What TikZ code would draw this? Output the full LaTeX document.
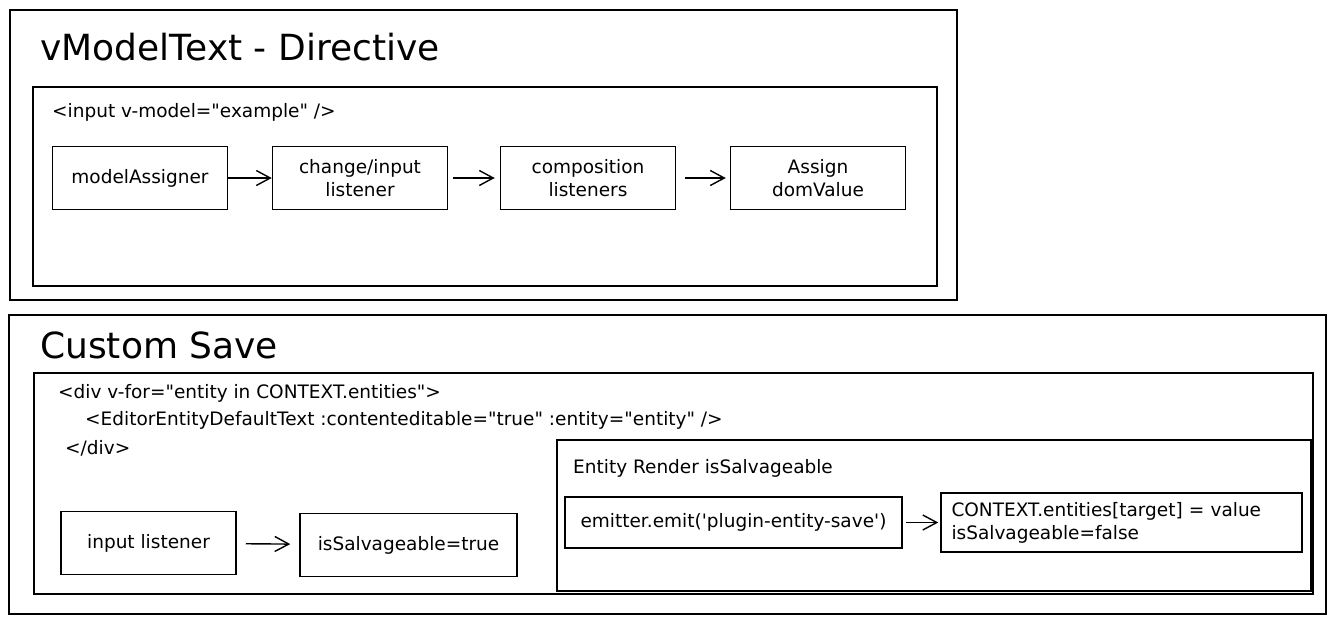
\documentclass[tikz,border=0pt]{standalone}
\usepackage{fontspec}
\setmainfont{DejaVu Sans}[Ligatures=TeXOff]
\usetikzlibrary{arrows.meta,positioning}

\begin{document}
\begin{tikzpicture}[x=1pt, y=-1pt,
  marco/.style={rectangle, draw, line width=1.5pt, inner sep=0pt},
  caja/.style={rectangle, draw, line width=1.5pt, align=center, font=\fontsize{18.5}{23}\selectfont, minimum width=175pt, minimum height=63pt},
  titulo/.style={anchor=west, inner sep=0pt, font=\fontsize{36}{40}\selectfont},
  codigo/.style={anchor=west, inner sep=0pt, font=\fontsize{18.5}{23}\selectfont},
  lin/.style={-{Straight Barb[length=14pt,width=15pt]}, line width=1.4pt}
]
\useasboundingbox (0,0) rectangle (1335,624);
% bloque superior: directiva
\node[marco, minimum width=947pt, minimum height=290pt] (dir) at (483.5,155) {};
\node[titulo] (dirt) at (40,47) {vModelText - Directive};
\node[marco, minimum width=904pt, minimum height=199pt] (inp) at (485,186.5) {};
\node[codigo] (inpt) at (52,112) {<input v-model="example" />};
\node[caja] (ma) at (140,178) {modelAssigner};
\node[caja] (ci) at (360,178) {change/input\\listener};
\node[caja] (cl) at (588,178) {composition\\listeners};
\node[caja] (dv) at (818,178) {Assign\\domValue};
% aristas fila superior
\draw[lin] (ma) -- (ci);
\draw[lin, shorten <=5pt, shorten >=5pt] (ci) -- (cl);
\draw[lin, shorten <=9pt, shorten >=4pt] (cl) -- (dv);
% bloque inferior: guardado
\node[marco, minimum width=1317pt, minimum height=299pt] (cs) at (667.5,464.5) {};
\node[titulo] (cst) at (40,345) {Custom Save};
\node[marco, minimum width=1279pt, minimum height=221pt] (div) at (673.5,483.5) {};
\node[codigo] (d1) at (58,393) {<div v-for="entity in CONTEXT.entities">};
\node[codigo] (d2) at (85,420) {<EditorEntityDefaultText :contenteditable="true" :entity="entity" />};
\node[codigo] (d3) at (65,448) {</div>};
\node[caja] (il) at (148.5,543) {input listener};
\node[caja, minimum width=217pt] (st) at (408.5,545) {isSalvageable=true};
\draw[lin, shorten <=9pt, shorten >=9pt] (il) -- (st);
% render de la entidad
\node[marco, minimum width=754pt, minimum height=151pt] (er) at (934,515.5) {};
\node[codigo] (ert) at (573,468) {Entity Render isSalvageable};
\node[caja, minimum width=337pt, minimum height=51pt] (em) at (733.5,522.5) {emitter.emit('plugin-entity-save')};
\node[caja, minimum width=361pt, minimum height=59pt, align=left, text width=340pt] (ctx) at (1121.5,522.5) {CONTEXT.entities[target] = value\\isSalvageable=false};
\draw[lin, shorten <=3pt, shorten >=2pt] (em) -- (ctx);
\end{tikzpicture}
\end{document}
